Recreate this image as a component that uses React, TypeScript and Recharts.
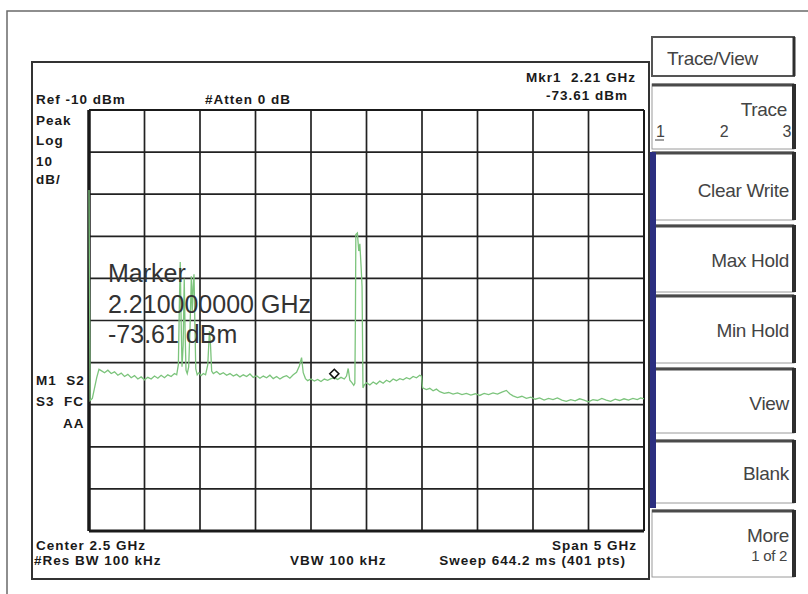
import { CartesianGrid, Line, LineChart, ReferenceDot, ReferenceLine, XAxis, YAxis } from "recharts";

// sweep: 0..5 GHz, ref -10 dBm, 10 dB/div
const freqGHz = [
  0, 0.01, 0.03, 0.05, 0.07, 0.09, 0.11, 0.14, 0.17, 0.2, 0.23, 0.26, 0.29, 0.32, 0.35, 0.38, 0.41, 0.44,
  0.47, 0.5, 0.53, 0.56, 0.59, 0.62, 0.65, 0.68, 0.71, 0.74, 0.77, 0.79,
  0.805, 0.815, 0.822, 0.83, 0.838, 0.848, 0.858, 0.866, 0.874, 0.885, 0.898, 0.91, 0.922, 0.93, 0.938,
  0.946, 0.954, 0.962, 0.975, 0.99, 1.01, 1.03, 1.05, 1.07, 1.085, 1.095, 1.105, 1.12,
  1.15, 1.18, 1.21, 1.24, 1.27, 1.3, 1.33, 1.36, 1.39, 1.42, 1.45, 1.48, 1.51, 1.54, 1.57, 1.6, 1.63,
  1.66, 1.69, 1.72, 1.75, 1.78, 1.81, 1.84, 1.87, 1.895, 1.915, 1.93, 1.95, 1.97,
  2.0, 2.03, 2.06, 2.09, 2.12, 2.15, 2.18, 2.21, 2.24, 2.27, 2.3, 2.32, 2.335, 2.35, 2.37, 2.385, 2.395,
  2.4, 2.404, 2.418, 2.43, 2.44, 2.452, 2.46, 2.468, 2.48,
  2.5, 2.53, 2.56, 2.59, 2.62, 2.65, 2.68, 2.71, 2.74, 2.77, 2.8, 2.83, 2.86, 2.89, 2.92, 2.95, 2.98,
  2.995, 3.005,
  3.04, 3.07, 3.1, 3.13, 3.16, 3.2, 3.24, 3.28, 3.32, 3.36, 3.4, 3.44, 3.48, 3.52, 3.56, 3.6, 3.64, 3.68,
  3.72, 3.76, 3.79, 3.82, 3.86, 3.9, 3.94, 3.98, 4.02, 4.06, 4.1, 4.14, 4.18, 4.22, 4.26, 4.3, 4.34, 4.38,
  4.42, 4.46, 4.5, 4.54, 4.58, 4.62, 4.66, 4.7, 4.74, 4.78, 4.82, 4.86, 4.9, 4.94, 4.97, 5.0,
];

const traceDbm = [
  -29, -79, -78.5, -76, -73.5, -71.6, -71.9, -72.4, -71.8, -72.6, -72.2, -73.0, -72.5, -73.3, -72.8, -73.6, -73.1, -73.9,
  -73.4, -74.1, -73.5, -73.9, -73.2, -73.7, -73.0, -73.6, -72.9, -73.3, -72.6, -72.9,
  -70.5, -55, -46.1, -60, -71.0, -66, -50, -63, -71.8, -72.6, -71.0, -62, -49.5, -58, -52,
  -49.0, -61, -71.5, -72.9, -72.4, -73.1, -72.6, -72.9, -70.5, -62.5, -66, -72.0, -72.6,
  -72.1, -72.8, -72.4, -73.0, -72.6, -73.2, -72.8, -73.4, -72.9, -73.3, -72.7, -73.5, -73.1, -73.7, -73.2, -73.6, -73.0,
  -73.8, -73.3, -73.9, -73.4, -73.1, -73.7, -72.9, -72.3, -70.8, -68.8, -72.4, -73.8, -74.3,
  -73.9, -74.4, -74.0, -74.5, -73.9, -74.2, -73.8, -73.61, -74.0, -73.5, -73.9, -73.2, -71.4, -74.2, -74.8, -75.4, -74.9,
  -60, -39.6, -39.2, -43.5, -41.8, -47.5, -52, -76.0, -75.3,
  -74.8, -75.3, -74.6, -75.1, -74.4, -74.9, -74.2, -74.6, -73.9, -74.3, -73.8, -74.1, -73.6, -73.9, -73.3, -73.6, -73.0,
  -73.2, -76.0,
  -76.4, -76.1, -76.7, -76.3, -76.9, -77.3, -77.1, -77.5, -77.2, -77.6, -77.3, -77.7, -77.4, -77.8, -77.3, -77.6, -77.2, -77.5,
  -77.0, -76.6, -77.4, -77.9, -78.3, -78.0, -78.5, -78.2, -78.7, -78.4, -78.9, -78.5, -78.8, -78.4, -78.9, -79.2, -78.8, -79.1,
  -78.6, -78.9, -79.3, -78.8, -79.0, -78.5, -78.9, -79.2, -78.7, -79.0, -78.6, -78.9, -78.5, -78.8, -78.4, -78.6,
];

const freqTicks = [0, 0.5, 1, 1.5, 2, 2.5, 3, 3.5, 4, 4.5, 5];
const levelTicks = [-110, -100, -90, -80, -70, -60, -50, -40, -30, -20, -10];

const markerFreq = 2.21;
const markerLevel = -73.61;
const markerLines = ["Marker", "2.210000000 GHz", "-73.61 dBm"];

const softkeys = ["Clear Write", "Max Hold", "Min Hold", "View", "Blank"];

const data = freqGHz.map((f, i) => ({ f, dbm: traceDbm[i] }));

const bold = { fontFamily: "'Liberation Sans', Arial, sans-serif", fontWeight: 700, fontSize: 13.5, letterSpacing: 1, fill: "#1a1a1a" };
const soft = { fontFamily: "'Liberation Sans', Arial, sans-serif", fontSize: 19, letterSpacing: -0.3, fill: "#444" };

function Diamond({ cx, cy }: { cx?: number; cy?: number }) {
  if (cx == null || cy == null) return null;
  const y = cy - 4;
  return <path d={`M${cx} ${y - 4.5} L${cx + 4.5} ${y} L${cx} ${y + 4.5} L${cx - 4.5} ${y} Z`} fill="#fff" stroke="#111" strokeWidth={1.6} />;
}

function Softkey({ y1, y2 }: { y1: number; y2: number }) {
  return (
    <g>
      <rect x={652} y={y1} width={142} height={y2 - y1} fill="#fff" stroke="#9a9a9a" strokeWidth={1} />
      <line x1={652} y1={y1 + 1} x2={794} y2={y1 + 1} stroke="#4a4a4a" strokeWidth={3} />
      <line x1={794} y1={y1} x2={794} y2={y2} stroke="#2e2e2e" strokeWidth={4} />
    </g>
  );
}

const keyBoxes = [
  [152, 220],
  [225, 292],
  [295, 363],
  [368, 433],
  [440, 503],
];
const keyBaselines = [197, 267, 337, 410, 480];

export default function App() {
  return (
    <div style={{ position: "absolute", left: 0, top: 0, width: 808, height: 594, background: "#fff", overflow: "hidden" }}>
      <svg width={808} height={594} style={{ position: "absolute", left: 0, top: 0 }}>
        <path d="M7 594 V11 H808" stroke="#6a6a6a" strokeWidth={1.5} fill="none" />
        <rect x={32} y={62} width={617} height={517} fill="none" stroke="#333" strokeWidth={2} />

        <text x={36} y={104} {...bold}>Ref -10 dBm</text>
        <text x={205} y={104} {...bold}>#Atten 0 dB</text>
        <text x={636} y={82} textAnchor="end" {...bold}>{"Mkr1\u00a0\u00a02.21 GHz"}</text>
        <text x={628} y={100} textAnchor="end" {...bold}>-73.61 dBm</text>
        <text x={36} y={125} {...bold}>Peak</text>
        <text x={36} y={145} {...bold}>Log</text>
        <text x={36} y={166} {...bold}>10</text>
        <text x={36} y={184} {...bold}>dB/</text>
        <text x={36} y={385} {...bold}>{"M1\u00a0\u00a0S2"}</text>
        <text x={36} y={406} {...bold}>{"S3\u00a0\u00a0FC"}</text>
        <text x={63} y={428} {...bold}>AA</text>
        <text x={36} y={550} {...bold}>Center 2.5 GHz</text>
        <text x={34} y={565} {...bold}>#Res BW 100 kHz</text>
        <text x={290} y={565} {...bold}>VBW 100 kHz</text>
        <text x={637} y={550} textAnchor="end" {...bold}>Span 5 GHz</text>
        <text x={626} y={565} textAnchor="end" {...bold}>Sweep 644.2 ms (401 pts)</text>

        <rect x={652} y={37} width={142} height={39} fill="#fff" stroke="#555" strokeWidth={2} />
        <line x1={794} y1={37} x2={794} y2={76} stroke="#2e2e2e" strokeWidth={3} />
        <text x={667} y={65} {...soft}>Trace/View</text>

        <Softkey y1={84} y2={149} />
        <text x={787} y={116} textAnchor="end" {...soft}>Trace</text>
        <text x={656} y={137} {...soft} fontSize={16}>1</text>
        <line x1={655} y1={140} x2={664} y2={140} stroke="#444" strokeWidth={1} />
        <text x={724} y={137} textAnchor="middle" {...soft} fontSize={16}>2</text>
        <text x={791} y={137} textAnchor="end" {...soft} fontSize={16}>3</text>

        {keyBoxes.map(([a, b], i) => (
          <Softkey key={i} y1={a} y2={b} />
        ))}
        {softkeys.map((s, i) => (
          <text key={s} x={789} y={keyBaselines[i]} textAnchor="end" {...soft}>
            {s}
          </text>
        ))}
        <Softkey y1={510} y2={577} />
        <text x={789} y={542} textAnchor="end" {...soft}>More</text>
        <text x={787} y={561} textAnchor="end" {...soft} fontSize={15}>1 of 2</text>

        <rect x={650} y={152} width={6} height={356} fill="#2b2f80" />
      </svg>

      <div style={{ position: "absolute", left: 85, top: 106 }}>
        <LineChart width={563} height={429} data={data} margin={{ top: 4, right: 4, bottom: 4, left: 4 }}>
          <XAxis type="number" dataKey="f" domain={[0, 5]} ticks={freqTicks} hide />
          <YAxis type="number" domain={[-110, -10]} ticks={levelTicks} hide />
          <CartesianGrid stroke="#222" strokeWidth={1.7} />
          <ReferenceLine x={0} stroke="#1a1a1a" strokeWidth={3.5} />
          <ReferenceLine x={5} stroke="#1a1a1a" strokeWidth={2} />
          <ReferenceLine y={-110} stroke="#1a1a1a" strokeWidth={3} />
          <ReferenceLine y={-10} stroke="#1a1a1a" strokeWidth={2} />
          <Line
            type="linear"
            dataKey="dbm"
            stroke="#7cc47c"
            strokeWidth={1.3}
            dot={false}
            isAnimationActive={false}
          />
          <ReferenceDot x={markerFreq} y={markerLevel} shape={<Diamond />} />
        </LineChart>
      </div>

      <svg width={808} height={594} style={{ position: "absolute", left: 0, top: 0, pointerEvents: "none" }}>
        {markerLines.map((t, i) => (
          <text
            key={t}
            x={108}
            y={282 + i * 30.5}
            fontFamily="'Liberation Sans', Arial, sans-serif"
            fontSize={25}
            fill="#333"
          >
            {t}
          </text>
        ))}
      </svg>
    </div>
  );
}
